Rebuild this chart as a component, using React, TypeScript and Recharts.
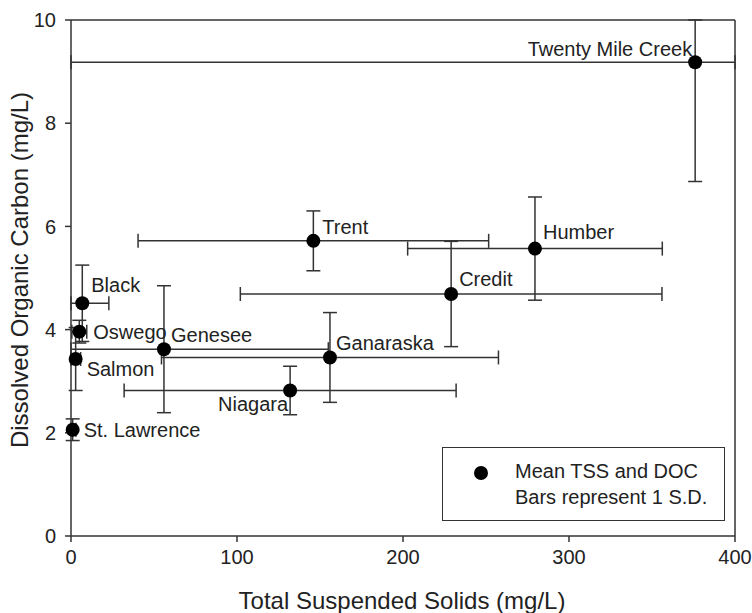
import { ScatterChart, Scatter, XAxis, YAxis, ErrorBar, ReferenceLine, Legend } from 'recharts'

const rivers = [
  'Twenty Mile Creek',
  'Trent',
  'Humber',
  'Credit',
  'Black',
  'Oswego',
  'Genesee',
  'Salmon',
  'Ganaraska',
  'Niagara',
  'St. Lawrence',
]
// mean TSS (mg/L) and its S.D.
const tssMean = [376, 146, 279.5, 229, 6.8, 5, 56, 2.8, 156, 132, 1]
const tssSd = [380, 105.6, 76.7, 127, 16, 4.5, 99, 3, 101.5, 100, 2]
// mean DOC (mg/L) and its S.D.
const docMean = [9.18, 5.72, 5.57, 4.69, 4.51, 3.96, 3.62, 3.43, 3.46, 2.82, 2.06]
const docSd = [2.31, 0.58, 1.0, 1.02, 0.74, 0.22, 1.23, 0.61, 0.87, 0.47, 0.21]

const xTicks = [0, 100, 200, 300, 400]
const yTicks = [0, 2, 4, 6, 8, 10]

const X_MAX = 400
const Y_MAX = 10
const FONT = '"Liberation Sans", Arial, sans-serif'
const INK = '#333'

// bars are cut at the frame, like the original plot
const data = rivers.map((name, i) => ({
  name,
  tss: tssMean[i],
  doc: docMean[i],
  tssErr: [Math.min(tssSd[i], tssMean[i]), Math.min(tssSd[i], X_MAX - tssMean[i])],
  docErr: [Math.min(docSd[i], docMean[i]), Math.min(docSd[i], Y_MAX - docMean[i])],
}))

// where each name sits relative to its dot
const labelPlace: Record<string, { dx: number; dy: number; anchor: 'start' | 'end' }> = {
  'Twenty Mile Creek': { dx: -3, dy: -13, anchor: 'end' },
  Trent: { dx: 9, dy: -14, anchor: 'start' },
  Humber: { dx: 8, dy: -17, anchor: 'start' },
  Credit: { dx: 8, dy: -15, anchor: 'start' },
  Black: { dx: 9, dy: -18, anchor: 'start' },
  Oswego: { dx: 14, dy: 0, anchor: 'start' },
  Genesee: { dx: 7, dy: -14, anchor: 'start' },
  Salmon: { dx: 11, dy: 10, anchor: 'start' },
  Ganaraska: { dx: 6, dy: -14, anchor: 'start' },
  Niagara: { dx: -2, dy: 14, anchor: 'end' },
  'St. Lawrence': { dx: 11, dy: 0, anchor: 'start' },
}

function Dot(props: any) {
  const { cx, cy, payload } = props
  const lp = labelPlace[payload.name]
  return (
    <g>
      <circle cx={cx} cy={cy} r={7} fill="#000" />
      <text
        x={cx + lp.dx}
        y={cy + lp.dy}
        textAnchor={lp.anchor}
        dominantBaseline="central"
        fontSize={20}
        fontFamily={FONT}
        fill="#222"
      >
        {payload.name}
      </text>
    </g>
  )
}

function XTitle() {
  return (
    <text x={402} y={600} textAnchor="middle" dominantBaseline="central" fontSize={24} fontFamily={FONT} fill="#222">
      Total Suspended Solids (mg/L)
    </text>
  )
}

function YTitle() {
  return (
    <text
      x={19}
      y={270}
      transform="rotate(-90 19 270)"
      textAnchor="middle"
      dominantBaseline="central"
      fontSize={24}
      fontFamily={FONT}
      fill="#222"
    >
      Dissolved Organic Carbon (mg/L)
    </text>
  )
}

function LegendBox() {
  return (
    <div
      style={{
        boxSizing: 'border-box',
        width: 283,
        height: 74,
        border: `1.5px solid ${INK}`,
        background: '#fff',
        fontFamily: FONT,
        fontSize: 20,
        color: '#222',
        position: 'relative',
      }}
    >
      <span
        style={{
          position: 'absolute',
          left: 31,
          top: 18,
          width: 14,
          height: 14,
          borderRadius: 7,
          background: '#000',
        }}
      />
      <div style={{ position: 'absolute', left: 72, top: 10, lineHeight: '26px' }}>
        Mean TSS and DOC
        <br />
        Bars represent 1 S.D.
      </div>
    </div>
  )
}

export default function App() {
  return (
    <div style={{ position: 'absolute', left: 0, top: 0, background: '#fff' }}>
      <ScatterChart width={752} height={613} margin={{ top: 20, right: 17, bottom: 0, left: 0 }}>
        <XAxis
          type="number"
          dataKey="tss"
          domain={[0, X_MAX]}
          ticks={xTicks}
          height={77}
          stroke={INK}
          strokeWidth={1.5}
          tickSize={6}
          tickMargin={8}
          tick={{ fill: '#222', fontSize: 20, fontFamily: FONT }}
          label={XTitle}
        />
        <YAxis
          type="number"
          dataKey="doc"
          domain={[0, Y_MAX]}
          ticks={yTicks}
          width={71}
          stroke={INK}
          strokeWidth={1.5}
          tickSize={6}
          tickMargin={9}
          tick={{ fill: '#222', fontSize: 20, fontFamily: FONT }}
          label={YTitle}
        />
        <ReferenceLine y={Y_MAX} stroke={INK} strokeWidth={1.5} />
        <ReferenceLine x={X_MAX} stroke={INK} strokeWidth={1.5} />
        <Legend
          layout="horizontal"
          verticalAlign="middle"
          align="center"
          content={LegendBox}
          wrapperStyle={{ left: 442, top: 447, width: 283, height: 74 }}
        />
        <Scatter data={data} shape={Dot} isAnimationActive={false}>
          <ErrorBar dataKey="tssErr" direction="x" width={7} stroke={INK} strokeWidth={1.5} />
          <ErrorBar dataKey="docErr" direction="y" width={7} stroke={INK} strokeWidth={1.5} />
        </Scatter>
      </ScatterChart>
    </div>
  )
}
